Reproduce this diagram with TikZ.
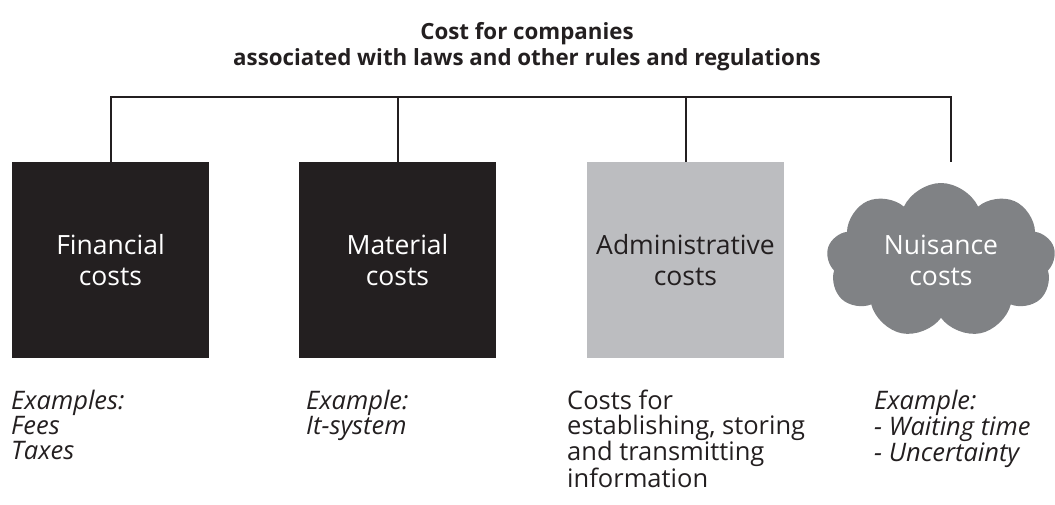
\documentclass[tikz,border=0pt]{standalone}
\usepackage{fontspec}
\setmainfont{Open Sans}
\usetikzlibrary{shapes.symbols}

\definecolor{darkbox}{HTML}{231F20}
\definecolor{lightbox}{HTML}{BCBDC0}
\definecolor{cloudbox}{HTML}{808285}

\begin{document}
\begin{tikzpicture} [x=1pt,y=-1pt,
		cost box/.style={minimum width=197pt,minimum height=196pt,inner sep=0pt,align=center,
			font=\fontsize{26.5}{31}\selectfont},
		dark cost/.style={cost box,fill=darkbox,text=white},
		light cost/.style={cost box,fill=lightbox,text=darkbox},
		nuisance cost/.style={cloud,cloud puffs=9,cloud puff arc=130,aspect=1.48,
			minimum width=229pt,minimum height=155pt,inner sep=0pt,fill=cloudbox,text=white,
			align=center,font=\fontsize{26.5}{31}\selectfont},
		note/.style={anchor=north west,inner sep=0pt,align=left,text=darkbox,
			font=\fontsize{25.5}{24.3}\selectfont},
		example note/.style={note,font=\fontsize{25.5}{24.3}\selectfont\itshape},
		link/.style={line width=2pt,draw=darkbox}]

	\useasboundingbox (0,0) rectangle (1055,505);

	\node [align=center,text=darkbox,font=\fontsize{22.3}{26}\selectfont\bfseries] (title) at (527,47)
		{Cost for companies\\associated with laws and other rules and regulations};

	\node [dark cost] (box-fin) at (110.5,260) {Financial\\costs};
	\node [dark cost] (box-mat) at (397.5,260) {Material\\costs};
	\node [light cost] (box-adm) at (685.5,260) {Administrative\\costs};
	\node [nuisance cost] (cloud-nui) at (941,260.5) {Nuisance\\costs};
	\coordinate (top-nui) at (951,162);
	\coordinate (bus) at (0,97);

	\draw [link] (box-fin.north) -- (box-fin.north |- bus) -- (top-nui |- bus) -- (top-nui);
	\draw [link] (box-mat.north) -- (box-mat.north |- bus);
	\draw [link] (box-adm.north) -- (box-adm.north |- bus);

	\node [example note] (note-fin) at (11,390) {Examples:\\Fees\\Taxes};
	\node [example note] (note-mat) at (306,390) {Example:\\It-system};
	\node [note] (note-adm) at (567,390) {Costs for\\establishing, storing\\and transmitting\\information};
	\node [example note] (note-nui) at (874,390) {Example:\\- Waiting time\\- Uncertainty};
\end{tikzpicture}
\end{document}
